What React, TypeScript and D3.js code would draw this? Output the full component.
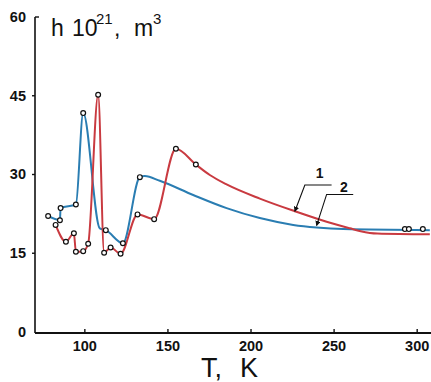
import React from "react";
import * as d3 from "d3";

// Curve 2 (blue): temperature T, K and h·10^21, m^3
const blueT = [77.9, 85.0, 85.4, 94.6, 99.0, 109.0, 112.6, 122.9, 133.1, 136.1, 145.1, 165.2, 185.3, 205.3, 225.4, 239.5, 255.5, 307.6];
const blueH = [22.1, 21.3, 23.6, 24.3, 41.7, 19.75, 19.4, 16.9, 29.5, 29.7, 28.8, 26.1, 23.6, 21.7, 20.4, 19.9, 19.6, 19.4];
const blueMarked = [1, 1, 1, 1, 1, 0, 1, 1, 1, 0, 0, 0, 0, 0, 0, 0, 0, 0];
// Separate measurements near room temperature
const blueTailT = [292.6, 295.0, 303.4];
const blueTailH = [19.6, 19.6, 19.6];

// Curve 1 (red)
const redT = [82.4, 88.6, 93.4, 94.6, 99.0, 102.0, 108.0, 111.6, 115.5, 121.5, 131.7, 141.7, 154.8, 166.8, 175.2, 185.3, 205.3, 226.4, 245.5, 259.5, 266.0, 276.0, 307.6];
const redH = [20.4, 17.2, 18.8, 15.3, 15.4, 16.8, 45.2, 15.1, 16.1, 14.9, 22.4, 21.5, 34.9, 31.9, 29.9, 28.1, 25.4, 23.0, 21.0, 19.75, 19.2, 18.75, 18.6];
const redMarked = [1, 1, 1, 1, 1, 1, 1, 1, 1, 1, 1, 1, 1, 1, 0, 0, 0, 0, 0, 0, 0, 0, 0];

const xTicks = [100, 150, 200, 250, 300];
const yTicks = [0, 15, 30, 45, 60];

// Leader lines for the curve numbers: [curve point, elbow, end], and label position
const leader1 = [[226.4, 23.0], [232.4, 28.0], [248.5, 28.0]];
const leader2 = [[239.5, 20.3], [245.5, 26.2], [261.5, 26.2]];
const label1 = [241.3, 29.3];
const label2 = [255.9, 26.7];

const RED = "#c93a40";
const BLUE = "#2a7db2";
const FONT = "'Liberation Sans', Arial, sans-serif";

export default function App() {
  const W = 431;
  const H = 382;
  const x = d3.scaleLinear().domain([70, 310]).range([35, 433.8]);
  const y = d3.scaleLinear().domain([0, 60]).range([332, 17]);

  const line = d3
    .line<[number, number]>()
    .x((d) => x(d[0]))
    .y((d) => y(d[1]))
    .curve(d3.curveMonotoneX);

  const bluePts: [number, number][] = blueT.map((t, i) => [t, blueH[i]]);
  const redPts: [number, number][] = redT.map((t, i) => [t, redH[i]]);

  const blueMarks = bluePts
    .filter((_, i) => blueMarked[i])
    .concat(blueTailT.map((t, i) => [t, blueTailH[i]] as [number, number]));
  const redMarks = redPts.filter((_, i) => redMarked[i]);

  const straight = d3
    .line<number[]>()
    .x((d) => x(d[0]))
    .y((d) => y(d[1]));

  const axisY0 = 333;

  return (
    <svg
      width={W}
      height={H}
      style={{ position: "absolute", left: 0, top: 0, background: "#fff" }}
      fontFamily={FONT}
    >
      <defs>
        <marker id="arr" viewBox="0 0 6 6" refX="5" refY="3" markerWidth="5" markerHeight="5" orient="auto">
          <path d="M0,0 L6,3 L0,6 z" fill="#111" />
        </marker>
      </defs>

      {/* axes */}
      <line x1={x(70)} x2={W} y1={axisY0} y2={axisY0} stroke="#111" strokeWidth={2} />
      <line x1={x(70)} x2={x(70)} y1={y(60)} y2={axisY0} stroke="#111" strokeWidth={1.6} />
      <line x1={x(70)} x2={x(70) + 4} y1={y(60)} y2={y(60)} stroke="#111" strokeWidth={1.4} />

      {xTicks.map((t) => (
        <g key={t}>
          <line x1={x(t)} x2={x(t)} y1={axisY0} y2={axisY0 - 4} stroke="#111" strokeWidth={1.4} />
          <text x={x(t)} y={351} textAnchor="middle" fontSize={14.5} fontWeight="bold" fill="#111">
            {t}
          </text>
        </g>
      ))}
      {yTicks.map((v) => (
        <g key={v}>
          {v > 0 && v < 60 && (
            <line x1={x(70) - 3} x2={x(70)} y1={y(v)} y2={y(v)} stroke="#111" strokeWidth={1.4} />
          )}
          <text x={26} y={y(v) + 1} textAnchor="end" dominantBaseline="middle" fontSize={14.5} fontWeight="bold" fill="#111">
            {v}
          </text>
        </g>
      ))}

      {/* axis titles */}
      <text y={36} fontSize={23} fill="#111">
        <tspan x={51}>h</tspan>
        <tspan x={72}>10</tspan>
        <tspan x={96} y={23.5} fontSize={15}>21</tspan>
        <tspan x={114} y={36}>,</tspan>
        <tspan x={134}>m</tspan>
        <tspan x={153} y={23.5} fontSize={15}>3</tspan>
      </text>
      <text y={377} fontSize={27} fill="#111">
        <tspan x={201}>T,</tspan>
        <tspan x={240}>K</tspan>
      </text>

      {/* curves */}
      <path d={line(bluePts) ?? ""} fill="none" stroke={BLUE} strokeWidth={2} />
      <path d={line(redPts) ?? ""} fill="none" stroke={RED} strokeWidth={2} />

      {blueMarks.map((d, i) => (
        <circle key={"b" + i} cx={x(d[0])} cy={y(d[1])} r={2.4} fill="#fff" stroke="#111" strokeWidth={1.2} />
      ))}
      {redMarks.map((d, i) => (
        <circle key={"r" + i} cx={x(d[0])} cy={y(d[1])} r={2.4} fill="#fff" stroke="#111" strokeWidth={1.2} />
      ))}

      {/* curve numbers */}
      {[leader1, leader2].map((pts, i) => (
        <path
          key={"l" + i}
          d={straight([...pts].reverse()) ?? ""}
          fill="none"
          stroke="#111"
          strokeWidth={1.1}
          markerEnd="url(#arr)"
        />
      ))}
      <text x={x(label1[0])} y={y(label1[1])} textAnchor="middle" fontSize={14} fontWeight="bold" fill="#111">
        1
      </text>
      <text x={x(label2[0])} y={y(label2[1])} textAnchor="middle" fontSize={14} fontWeight="bold" fill="#111">
        2
      </text>
    </svg>
  );
}
